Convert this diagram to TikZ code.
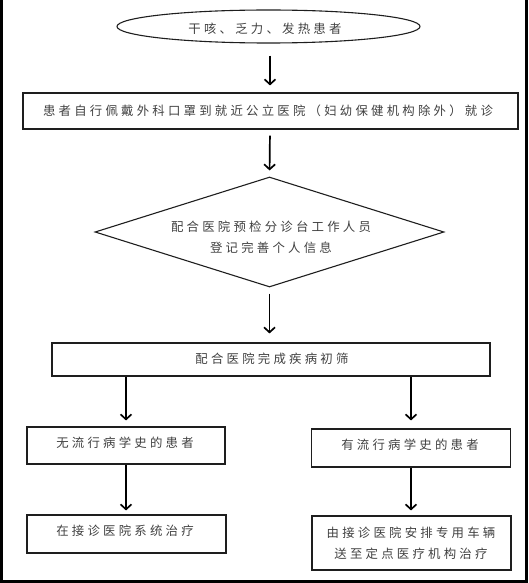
\documentclass[tikz,border=0pt]{standalone}
\usepackage{fontspec}
\setmainfont{Noto Sans CJK SC}[LetterSpace=26]
\usetikzlibrary{shapes.geometric,arrows.meta}
\definecolor{txt}{HTML}{404040}
\definecolor{edge}{HTML}{1E1E1E}
\tikzset{
  x=1pt,y=-1pt,
  base/.style={draw=edge,line width=1.1pt,inner sep=0pt},
  lbl/.style={text=txt,font=\fontsize{12.4}{20.5}\selectfont,inner sep=0pt,align=center},
  boxnode/.style={base,rectangle},
  ovalnode/.style={base,ellipse},
  decnode/.style={base,diamond,aspect=3.2},
  flow/.style={draw=black,line width=1.7pt,-{Straight Barb[length=5pt,width=11pt,line width=1.7pt]}},
}
\begin{document}
\begin{tikzpicture}
\useasboundingbox (0,0) rectangle (528,583);
% outer frame (left, right, bottom)
\draw[line width=2.6pt,black] (1.3,0) -- (1.3,581.7) -- (526.7,581.7) -- (526.7,0);

\node[ovalnode,minimum width=303pt,minimum height=33pt] (start) at (268.5,26.5) {};
\node[lbl] (starttext) at (265,29) {干咳、乏力、发热患者};
\node[boxnode,minimum width=495pt,minimum height=36pt] (visit) at (270.5,111) {};
\node[lbl] (visittext) at (268,110.5) {患者自行佩戴外科口罩到就近公立医院（妇幼保健机构除外）就诊};
\node[decnode,minimum width=349pt,minimum height=110pt] (reg) at (269.5,232) {};
\node[lbl] (regtext) at (271,237.5) {配合医院预检分诊台工作人员\\登记完善个人信息};
\node[boxnode,minimum width=438pt,minimum height=33pt] (screen) at (271,359.5) {};
\node[lbl] (screentext) at (272,359) {配合医院完成疾病初筛};
\node[boxnode,minimum width=198pt,minimum height=37pt] (noepi) at (126,445.5) {};
\node[lbl] (noepitext) at (125,442.5) {无流行病学史的患者};
\node[boxnode,minimum width=199pt,minimum height=38pt] (epi) at (411,448) {};
\node[lbl] (epitext) at (410,444.5) {有流行病学史的患者};
\node[boxnode,minimum width=199pt,minimum height=38pt] (treat) at (126.5,534) {};
\node[lbl] (treattext) at (125,530.5) {在接诊医院系统治疗};
\node[boxnode,minimum width=199pt,minimum height=54pt] (transfer) at (411.5,543) {};
\node[lbl] (transfertext) at (411,543) {由接诊医院安排专用车辆\\送至定点医疗机构治疗};

\draw[flow,shorten <=12pt,shorten >=7pt] (start.south -| 270,0) -- (visit.north -| 270,0);
\draw[flow,shorten <=6pt,shorten >=6pt] (visit.south -| 270,0) -- (reg.north);
\draw[flow,shorten <=6pt,shorten >=9pt] (reg.south) -- (screen.north -| reg.south);
\draw[flow,shorten >=6pt] (screen.south -| noepi.north) -- (noepi.north);
\draw[flow,shorten >=8pt] (screen.south -| epi.north) -- (epi.north);
\draw[flow,shorten >=4pt] (noepi.south) -- (treat.north -| noepi.south);
\draw[flow,shorten >=5pt] (epi.south) -- (transfer.north -| epi.south);
\end{tikzpicture}
\end{document}
